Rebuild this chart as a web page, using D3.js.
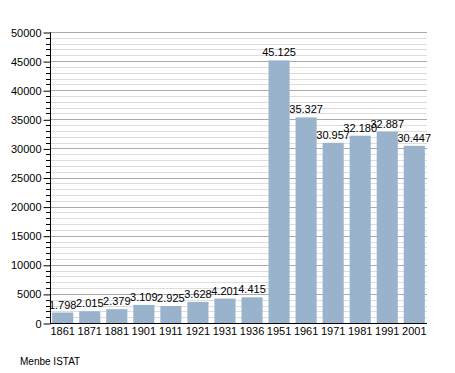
<!DOCTYPE html>
<html>
  <head>
    <meta charset="utf-8" />
    <script src="https://d3js.org/d3.v7.min.js"></script>
    <style>
      body { margin: 0; background: #fff; }
      text { font-family: "Liberation Sans", Arial, sans-serif; }
    </style>
  </head>
  <body>
    <svg id="chart"></svg>
    <script>
      // Data
      var years = ["1861", "1871", "1881", "1901", "1911", "1921", "1931", "1936",
                   "1951", "1961", "1971", "1981", "1991", "2001"];
      var population = [1798, 2015, 2379, 3109, 2925, 3628, 4201, 4415,
                        45125, 35327, 30957, 32180, 32887, 30447];
      var yTicks = [0, 5000, 10000, 15000, 20000, 25000, 30000, 35000, 40000, 45000, 50000];
      var source = "Menbe ISTAT";

      var width = 455, height = 373;
      var plotLeft = 50, plotRight = 427, plotTop = 32, plotBottom = 323;

      var svg = d3.select("#chart").attr("width", width).attr("height", height);

      var x = d3.scaleBand().domain(years).range([plotLeft, plotRight]).paddingInner(0.22).paddingOuter(0.08);
      var y = d3.scaleLinear().domain([0, 50000]).range([plotBottom, plotTop]);

      // minor grid every 1000
      var minor = d3.range(1000, 50001, 1000).filter(function (v) { return v % 5000 !== 0; });
      svg.append("g").selectAll("line").data(minor).join("line")
        .attr("x1", plotLeft).attr("x2", plotRight)
        .attr("y1", d => Math.round(y(d)) + 0.5).attr("y2", d => Math.round(y(d)) + 0.5)
        .attr("stroke", "#dddddd").attr("stroke-width", 1);
      svg.append("g").selectAll("line").data(minor).join("line")
        .attr("x1", plotLeft - 4).attr("x2", plotLeft)
        .attr("y1", d => Math.round(y(d)) + 0.5).attr("y2", d => Math.round(y(d)) + 0.5)
        .attr("stroke", "#000").attr("stroke-width", 1);

      // major grid
      svg.append("g").selectAll("line").data(yTicks.slice(1)).join("line")
        .attr("x1", plotLeft).attr("x2", plotRight)
        .attr("y1", d => Math.round(y(d)) + 0.5).attr("y2", d => Math.round(y(d)) + 0.5)
        .attr("stroke", "#aaaaaa").attr("stroke-width", 1);

      // bars
      svg.append("g").selectAll("rect").data(population).join("rect")
        .attr("x", (d, i) => x(years[i]))
        .attr("y", d => y(d))
        .attr("width", x.bandwidth())
        .attr("height", d => plotBottom - y(d))
        .attr("fill", "#99b3cc");

      // value labels
      var fmt = d => d3.format(",")(d).replace(/,/g, ".");
      svg.append("g").selectAll("text").data(population).join("text")
        .attr("x", (d, i) => x(years[i]) + x.bandwidth() / 2)
        .attr("y", d => y(d) - 4)
        .attr("text-anchor", "middle")
        .style("font-size", "11px")
        .attr("fill", "#000")
        .text(fmt);

      // y axis
      var yAxis = svg.append("g").attr("transform", "translate(" + (plotLeft + 0.5) + ",0.5)")
        .call(d3.axisLeft(y).tickValues(yTicks).tickSize(7).tickPadding(2).tickFormat(d3.format("d")));
      yAxis.selectAll("text").style("font-size", "11px").attr("fill", "#000");
      yAxis.select(".domain").attr("d", "M0," + plotTop + "V" + plotBottom);

      // x axis
      var xAxis = svg.append("g").attr("transform", "translate(0," + (plotBottom + 0.5) + ")")
        .call(d3.axisBottom(x).tickSize(0).tickPadding(4));
      xAxis.selectAll("text").style("font-size", "11px").attr("fill", "#000");
      xAxis.select(".domain").attr("d", "M" + plotLeft + ",0H" + plotRight).attr("stroke", "#000");

      // source
      svg.append("text").attr("x", 20).attr("y", 365)
        .style("font-size", "10px").attr("fill", "#000").text(source);
    </script>
  </body>
</html>
